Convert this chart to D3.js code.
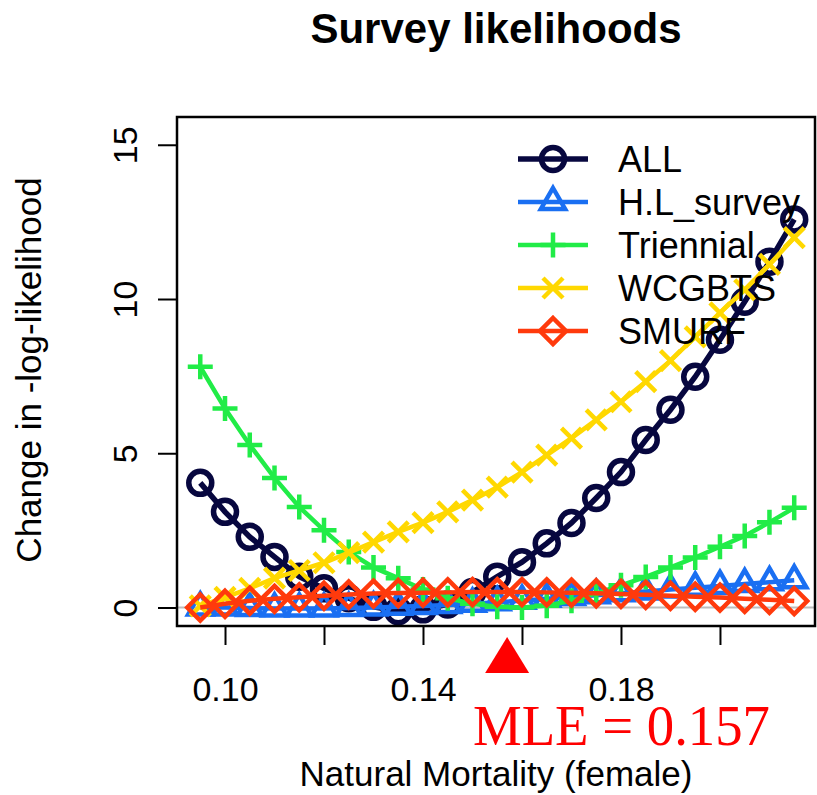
<!DOCTYPE html>
<html>
<head>
<meta charset="utf-8">
<script src="https://cdn.jsdelivr.net/npm/d3@7"></script>
<style>
  html, body { margin: 0; padding: 0; background: #ffffff; }
  svg { display: block; }
</style>
</head>
<body>
<svg id="chart" width="817" height="795"></svg>
<script>
// Natural mortality values of the likelihood profile
const mortality = [0.095, 0.100, 0.105, 0.110, 0.115, 0.120, 0.125, 0.130, 0.135,
                   0.140, 0.145, 0.150, 0.155, 0.160, 0.165, 0.170, 0.175, 0.180,
                   0.185, 0.190, 0.195, 0.200, 0.205, 0.210, 0.215];

// Change in -log-likelihood for each survey component
const allSurveys = [4.04, 3.10, 2.29, 1.64, 1.00, 0.62, 0.30, 0.02, -0.12, -0.06,
                    0.10, 0.50, 1.00, 1.47, 2.08, 2.74, 3.55, 4.39, 5.43, 6.41,
                    7.48, 8.68, 9.91, 11.21, 12.58];
const hlSurvey = [0.00, 0.00, -0.02, -0.03, -0.03, -0.03, -0.02, 0.00, 0.02, 0.05,
                  0.08, 0.12, 0.17, 0.22, 0.28, 0.34, 0.40, 0.46, 0.52, 0.58,
                  0.64, 0.70, 0.76, 0.82, 0.88];
const triennial = [7.80, 6.45, 5.27, 4.20, 3.26, 2.50, 1.80, 1.30, 0.95, 0.58,
                   0.30, 0.12, 0.02, 0.00, 0.06, 0.22, 0.46, 0.72, 0.99, 1.30,
                   1.62, 1.97, 2.32, 2.76, 3.23];
const wcgbts = [0.05, 0.33, 0.62, 0.95, 1.20, 1.45, 1.78, 2.12, 2.45, 2.75,
                3.10, 3.48, 3.90, 4.39, 4.94, 5.49, 6.08, 6.67, 7.32, 8.00,
                8.77, 9.55, 10.30, 11.12, 11.99];
const smurf = [0.00, 0.12, 0.22, 0.28, 0.33, 0.38, 0.42, 0.45, 0.47, 0.48,
               0.49, 0.50, 0.50, 0.50, 0.49, 0.48, 0.46, 0.44, 0.41, 0.38,
               0.35, 0.32, 0.28, 0.25, 0.21];

const seriesNames = ["ALL", "H.L_survey", "Triennial", "WCGBTS", "SMURF"];
const seriesValues = [allSurveys, hlSurvey, triennial, wcgbts, smurf];
const seriesColors = ["#07073f", "#1a6ff2", "#21ec47", "#ffd800", "#ff3a0c"];
const seriesMarkers = ["circle", "triangle", "plus", "cross", "diamond"];

const xTicks = [0.10, 0.12, 0.14, 0.16, 0.18, 0.20];
const xTickLabels = ["0.10", "", "0.14", "", "0.18", ""];
const yTicks = [0, 5, 10, 15];

const mleValue = 0.157;

const svg = d3.select("#chart");
const font = "'Liberation Sans', Arial, Helvetica, sans-serif";

const x = d3.scaleLinear().domain([0.0903, 0.2192]).range([177, 815]);
const y = d3.scaleLinear().domain([-0.6, 15.9]).range([626, 117]);

// Title
svg.append("text")
  .attr("x", 496).attr("y", 43)
  .attr("text-anchor", "middle")
  .style("font-family", font)
  .style("font-weight", "bold")
  .style("font-size", "42px")
  .text("Survey likelihoods");

// Reference line at zero
svg.append("line")
  .attr("x1", x.range()[0]).attr("x2", x.range()[1])
  .attr("y1", y(0)).attr("y2", y(0))
  .attr("stroke", "#bdbdbd").attr("stroke-width", 2);

// Markers
function marker(g, type, color) {
  const sw = type === "circle" ? 5.5 : 4.5;
  if (type === "circle") {
    g.append("circle").attr("r", 11.5);
  } else {
    let d;
    if (type === "triangle") d = "M0,-14L12.1,7L-12.1,7Z";
    if (type === "plus") d = "M-12.5,0H12.5M0,-12.5V12.5";
    if (type === "cross") d = "M-10,-10L10,10M-10,10L10,-10";
    if (type === "diamond") d = "M0,-13L13,0L0,13L-13,0Z";
    g.append("path").attr("d", d);
  }
  g.selectAll("circle,path")
    .attr("fill", "none")
    .attr("stroke", color)
    .attr("stroke-width", sw)
    .attr("stroke-linejoin", "miter");
}

const line = d3.line()
  .x((d, i) => x(mortality[i]))
  .y(d => y(d));

seriesValues.forEach((vals, k) => {
  const g = svg.append("g");
  g.append("path")
    .datum(vals)
    .attr("d", line)
    .attr("fill", "none")
    .attr("stroke", seriesColors[k])
    .attr("stroke-width", k === 0 ? 5.5 : 4.5);
  g.selectAll("g.pt")
    .data(vals)
    .join("g")
    .attr("class", "pt")
    .attr("transform", (d, i) => `translate(${x(mortality[i])},${y(d)})`)
    .each(function () { marker(d3.select(this), seriesMarkers[k], seriesColors[k]); });
});

// Axes
const xAxis = svg.append("g")
  .attr("transform", `translate(0,${y.range()[0]})`)
  .call(d3.axisBottom(x).tickValues(xTicks).tickSize(19).tickSizeOuter(0)
    .tickFormat((d, i) => xTickLabels[i]));
xAxis.select(".domain").remove();
xAxis.selectAll("line").attr("stroke", "#000").attr("stroke-width", 2);
xAxis.selectAll("text")
  .attr("y", 75).attr("dy", 0)
  .attr("fill", "#000")
  .style("font-family", font)
  .style("font-size", "34px");

const yAxis = svg.append("g")
  .attr("transform", `translate(${x.range()[0]},0)`)
  .call(d3.axisLeft(y).tickValues(yTicks).tickSize(19).tickSizeOuter(0));
yAxis.select(".domain").remove();
yAxis.selectAll("line").attr("stroke", "#000").attr("stroke-width", 2);
yAxis.selectAll("text")
  .attr("transform", "rotate(-90)")
  .attr("x", 0).attr("y", -40).attr("dy", 0)
  .attr("text-anchor", "middle")
  .attr("fill", "#000")
  .style("font-family", font)
  .style("font-size", "34px");

// Plot frame
svg.append("rect")
  .attr("x", x.range()[0]).attr("y", y.range()[1])
  .attr("width", x.range()[1] - x.range()[0])
  .attr("height", y.range()[0] - y.range()[1])
  .attr("fill", "none")
  .attr("stroke", "#000")
  .attr("stroke-width", 2.5);

// Axis titles
svg.append("text")
  .attr("x", 496).attr("y", 786)
  .attr("text-anchor", "middle")
  .style("font-family", font)
  .style("font-size", "35px")
  .text("Natural Mortality (female)");

svg.append("text")
  .attr("transform", "translate(41,370) rotate(-90)")
  .attr("text-anchor", "middle")
  .style("font-family", font)
  .style("font-size", "35px")
  .text("Change in -log-likelihood");

// Legend
const legend = svg.append("g");
seriesNames.forEach((name, k) => {
  const cy = 159 + k * 43;
  const row = legend.append("g").attr("transform", `translate(0,${cy})`);
  row.append("line")
    .attr("x1", 518).attr("x2", 588)
    .attr("stroke", seriesColors[k])
    .attr("stroke-width", k === 0 ? 5.5 : 4.5);
  const m = row.append("g").attr("transform", "translate(553,0)");
  marker(m, seriesMarkers[k], seriesColors[k]);
  row.append("text")
    .attr("x", 618).attr("y", 0).attr("dy", "0.36em")
    .style("font-family", font)
    .style("font-size", "36px")
    .text(name);
});

// Maximum likelihood estimate marker
const mx = x(mleValue);
svg.append("path")
  .attr("d", `M${mx},637L${mx + 22},673L${mx - 22},673Z`)
  .attr("fill", "#ff0000");

svg.append("text")
  .attr("x", 473).attr("y", 745)
  .attr("textLength", 297)
  .attr("lengthAdjust", "spacingAndGlyphs")
  .attr("fill", "#ff0000")
  .style("font-family", "'Liberation Serif', 'DejaVu Serif', serif")
  .style("font-size", "57px")
  .text(`MLE = ${mleValue}`);
</script>
</body>
</html>
